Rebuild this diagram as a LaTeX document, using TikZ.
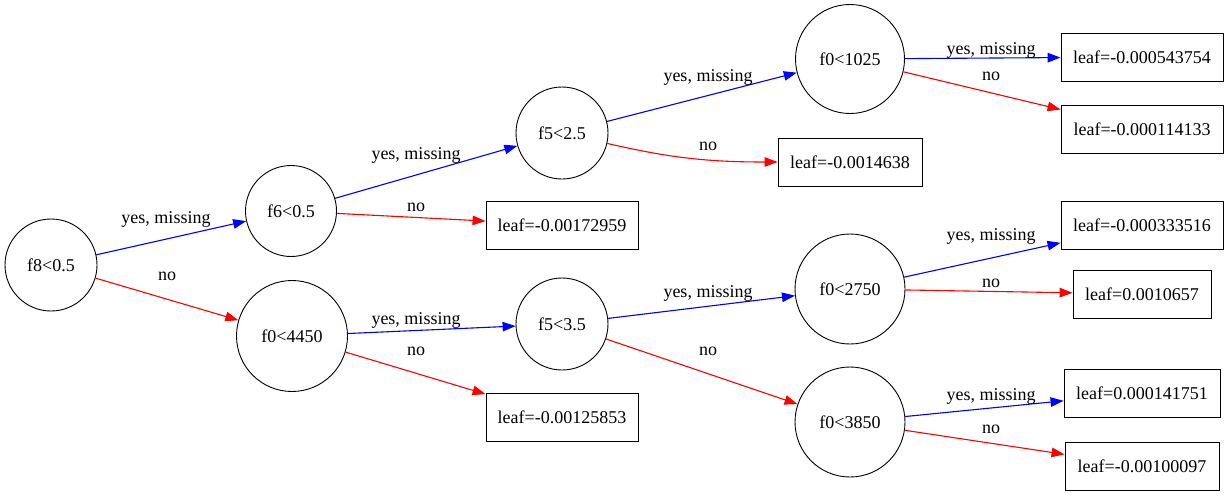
\documentclass[tikz,border=0pt]{standalone}
\usepackage{fontspec}
\setmainfont{Liberation Serif}
\usetikzlibrary{arrows.meta}
\begin{document}
\begin{tikzpicture}[x=1pt,y=-1pt,
  every node/.style={font=\fontsize{18}{20}\selectfont},
  split/.style={draw,circle,inner sep=0pt,line width=0.9pt},
  leafbox/.style={draw,rectangle,inner sep=0pt,minimum height=48pt,line width=0.9pt},
  lbl/.style={inner sep=0pt},
  yesedge/.style={draw=blue,line width=1.1pt,-{Triangle[length=13pt,width=9.5pt]}},
  noedge/.style={draw=red,line width=1.1pt,-{Triangle[length=13pt,width=9.5pt]}}]
\useasboundingbox (0,0) rectangle (1228,496);

% split nodes
\node[split,minimum size=92pt]  (f8)  at (51,265)  {f8<0.5};
\node[split,minimum size=91pt]  (f6)  at (291,211) {f6<0.5};
\node[split,minimum size=111pt] (f0a) at (292,336) {f0<4450};
\node[split,minimum size=92pt]  (f5a) at (562,133) {f5<2.5};
\node[split,minimum size=92pt]  (f5b) at (562,324) {f5<3.5};
\node[split,minimum size=109pt] (f0b) at (850,59)  {f0<1025};
\node[split,minimum size=110pt] (f0c) at (850,289) {f0<2750};
\node[split,minimum size=110pt] (f0d) at (850,422) {f0<3850};

% leaves
\node[leafbox,minimum width=152pt] (l1) at (562,225)  {leaf=-0.00172959};
\node[leafbox,minimum width=152pt] (l2) at (562,417)  {leaf=-0.00125853};
\node[leafbox,minimum width=144pt] (l3) at (850,162)  {leaf=-0.0014638};
\node[leafbox,minimum width=162pt] (l4) at (1142,57)  {leaf=-0.000543754};
\node[leafbox,minimum width=162pt] (l5) at (1142,129) {leaf=-0.000114133};
\node[leafbox,minimum width=162pt] (l6) at (1142,225) {leaf=-0.000333516};
\node[leafbox,minimum width=138pt] (l7) at (1142,294) {leaf=0.0010657};
\node[leafbox,minimum width=156pt] (l8) at (1142,393) {leaf=0.000141751};
\node[leafbox,minimum width=154pt] (l9) at (1142,466) {leaf=-0.00100097};

% edges
\draw[yesedge] (f8) -- (f6);
\draw[noedge]  (f8) -- (f0a);
\draw[yesedge] (f6) -- (f5a);
\draw[noedge]  (f6) -- (l1);
\draw[yesedge] (f0a) -- (f5b);
\draw[noedge]  (f0a) -- (l2);
\draw[yesedge] (f5a) -- (f0b);
\draw[noedge]  (f5a) to[out=-13,in=180] (l3);
\draw[yesedge] (f5b) -- (f0c);
\draw[noedge]  (f5b) -- (f0d);
\draw[yesedge] (f0b) -- (l4);
\draw[noedge]  (f0b) -- (l5);
\draw[yesedge] (f0c) -- (l6);
\draw[noedge]  (f0c) -- (l7);
\draw[yesedge] (f0d) -- (l8);
\draw[noedge]  (f0d) -- (l9);

% edge labels
\node[lbl] (t1)  at (166,219) {yes, missing};
\node[lbl] (t2)  at (167,276) {no};
\node[lbl] (t3)  at (416,155) {yes, missing};
\node[lbl] (t4)  at (416,207) {no};
\node[lbl] (t5)  at (416,320) {yes, missing};
\node[lbl] (t6)  at (416,351) {no};
\node[lbl] (t7)  at (708,77)  {yes, missing};
\node[lbl] (t8)  at (708,146) {no};
\node[lbl] (t9)  at (708,293) {yes, missing};
\node[lbl] (t10) at (708,351) {no};
\node[lbl] (t11) at (991,50)  {yes, missing};
\node[lbl] (t12) at (991,76)  {no};
\node[lbl] (t13) at (991,236) {yes, missing};
\node[lbl] (t14) at (991,283) {no};
\node[lbl] (t15) at (991,396) {yes, missing};
\node[lbl] (t16) at (991,429) {no};
\end{tikzpicture}
\end{document}
